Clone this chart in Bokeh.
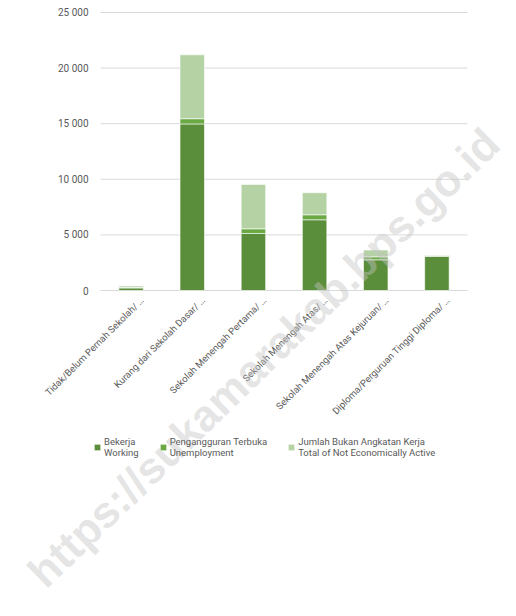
import math
from bokeh.plotting import figure
from bokeh.models import ColumnDataSource, Legend, LegendItem, Label, Range1d
from bokeh.core.properties import value
from bokeh.embed import file_html
from bokeh.resources import INLINE

categories = [
    "Tidak/Belum Pernah Sekolah/ …",
    "Kurang dari Sekolah Dasar/ …",
    "Sekolah Menengah Pertama/ …",
    "Sekolah Menengah Atas/ …",
    "Sekolah Menengah Atas Kejuruan/ …",
    "Diploma/Perguruan Tinggi Diploma/ …",
]
working = [230, 14980, 5130, 6360, 2760, 3060]
unemployment = [40, 470, 420, 450, 270, 80]
not_active = [130, 5740, 3990, 1980, 610, 50]

series_names = ["working", "unemployment", "not_active"]
legend_labels = [
    "Bekerja\nWorking",
    "Pengangguran Terbuka\nUnemployment",
    "Jumlah Bukan Angkatan Kerja\nTotal of Not Economically Active",
]
colors = ["#5b8e3b", "#6aa843", "#b4d2a4"]

y_ticks = [0, 5000, 10000, 15000, 20000, 25000]
y_tick_labels = ["0", "5 000", "10 000", "15 000", "20 000", "25 000"]

watermark = "https://sukamarakab.bps.go.id"

FONT = "Roboto"
TEXT_COLOR = "#595959"
GRID_COLOR = "#d9d9d9"

# ---- layout (pixels inside the figure) ----
FIG_W, FIG_H = 512, 612
PLOT_LEFT, PLOT_RIGHT, PLOT_TOP, PLOT_BOTTOM = 100, 467, 12, 290
Y_MAX = y_ticks[-1]

n = len(categories)
slot = (PLOT_RIGHT - PLOT_LEFT) / n
x_start = -0.5 - PLOT_LEFT / slot
x_end = n - 0.5 + (FIG_W - PLOT_RIGHT) / slot
unit = Y_MAX / (PLOT_BOTTOM - PLOT_TOP)
y_end = Y_MAX + PLOT_TOP * unit
y_start = -(FIG_H - PLOT_BOTTOM) * unit

idx = list(range(n))
source = ColumnDataSource(dict(
    x=idx, cat=categories, working=working, unemployment=unemployment, not_active=not_active,
))

p = figure(
    x_range=Range1d(x_start, x_end), y_range=Range1d(y_start, y_end),
    width=FIG_W, height=FIG_H,
    x_axis_type=None, y_axis_type=None,
    output_backend="svg", toolbar_location=None, min_border=0,
)
p.outline_line_color = None
p.background_fill_color = "white"
p.border_fill_color = "white"

# horizontal grid lines across the category band
p.segment(x0=[-0.5] * len(y_ticks), x1=[n - 0.5] * len(y_ticks), y0=y_ticks, y1=y_ticks,
          line_color=GRID_COLOR, line_width=1)

renderers = p.vbar_stack(
    series_names, x="x", width=0.4, source=source,
    color=colors, line_color="white", line_width=0.6,
)

# y tick labels
p.text(x=[-0.5] * len(y_ticks), y=y_ticks, text=y_tick_labels,
       x_offset=-12, text_align="right", text_baseline="middle",
       text_font=value(FONT), text_font_size="10px", text_color=TEXT_COLOR)

# x category labels (rotated)
p.text(x=idx, y=[0] * n, text=categories, angle=math.pi / 4,
       x_offset=11, y_offset=8, text_align="right", text_baseline="middle",
       text_font=value(FONT), text_font_size="9.5px", text_color=TEXT_COLOR)

items = [LegendItem(label=lab, renderers=[r]) for lab, r in zip(legend_labels, renderers)]
legend = Legend(
    items=items, orientation="horizontal", location=(93, 154),
    label_text_font=FONT, label_text_font_size="9.5px", label_text_color=TEXT_COLOR,
    label_text_line_height=1.65,
    glyph_width=8, glyph_height=8, spacing=20, label_standoff=3,
    border_line_color=None, background_fill_alpha=0, margin=0, padding=0,
)
p.add_layout(legend, "center")

wm = Label(
    x=263, y=255, x_units="screen", y_units="screen", text=watermark,
    angle=0.77, text_align="center", text_baseline="middle",
    text_font="Liberation Sans", text_font_style="bold", text_font_size="44px",
    text_color="#c4c4c4", text_alpha=0.45,
)
p.add_layout(wm)

open("out.html", "w").write(file_html(p, INLINE))
